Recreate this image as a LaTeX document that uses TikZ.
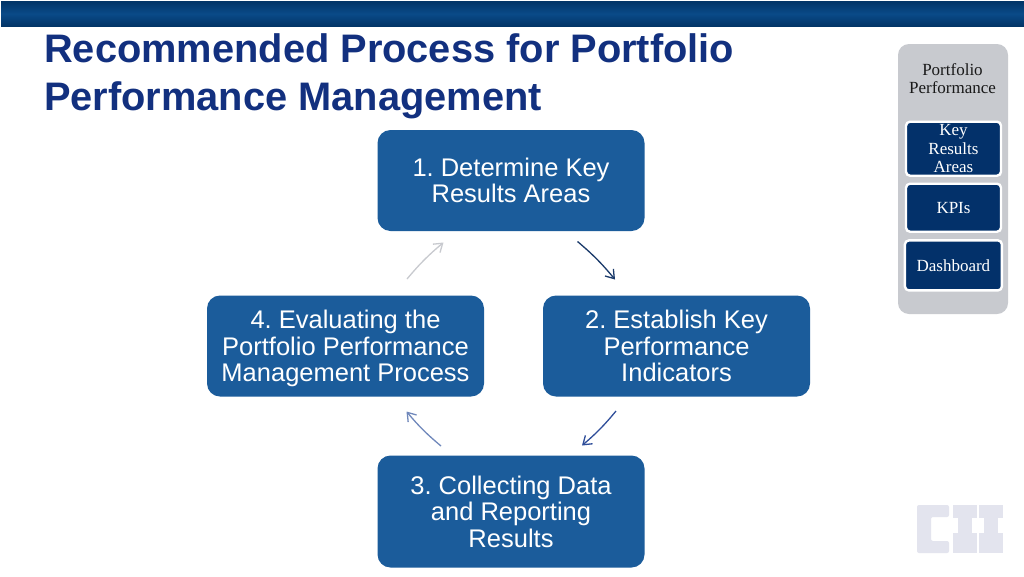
\documentclass[tikz,border=0pt]{standalone}
\usepackage{fontspec}
\setmainfont{Liberation Sans}
\newfontfamily\serifside{Liberation Serif}
\usetikzlibrary{arrows.meta,shadings}
\frenchspacing
\definecolor{boxblue}{HTML}{1B5C9B}
\definecolor{titleblue}{HTML}{12307F}
\definecolor{sidegray}{HTML}{C8CACF}
\definecolor{sidenavy}{HTML}{03316A}
\definecolor{logogray}{HTML}{E3E4EE}
\definecolor{bandmid}{HTML}{0A4A88}
\definecolor{bandedge}{HTML}{023466}
\definecolor{arrowa}{HTML}{1A3A6A}
\definecolor{arrowb}{HTML}{2F4E9A}
\definecolor{arrowc}{HTML}{7088BB}
\tikzset{
  x=1pt,y=-1pt,
  stepbox/.style={draw=none,fill=boxblue,rounded corners=13pt,text=white,align=center,
    font=\fontsize{25.5}{26.6}\selectfont,inner sep=0pt},
  sidebox/.style={draw=white,line width=2.4pt,fill=sidenavy,rounded corners=4pt,text=white,align=center,
    font=\serifside\fontsize{17}{18.6}\selectfont,inner sep=0pt},
  flow/.style={line width=1.3pt,-{Straight Barb[length=8pt,width=11pt,line width=1.3pt]}},
}
\begin{document}
\begin{tikzpicture}
\useasboundingbox (0,0) rectangle (1024,576);
\fill[white] (0,0) rectangle (1024,576);
% top band
\shade[top color=bandedge,bottom color=bandedge,middle color=bandmid] (1,1) rectangle (1024,26.5);
% title
\node[anchor=north west,inner sep=0pt,text=titleblue,align=left,font=\bfseries\fontsize{39.8}{48}\selectfont] (title) at (44,33) {Recommended Process for Portfolio\\Performance Management};
% side panel
\node[draw=none,fill=sidegray,rounded corners=11pt,minimum width=110pt,minimum height=270pt,inner sep=0pt] (panel) at (953,179) {};
\node[font=\serifside\fontsize{17}{18.6}\selectfont,text=black!90,align=center,inner sep=0pt] (ptitle) at (952.5,78.5) {Portfolio\\Performance};
\node[sidebox,minimum width=95pt,minimum height=54pt] (s1) at (953.5,148.7) {Key\\Results\\Areas};
\node[sidebox,minimum width=95pt,minimum height=48pt] (s2) at (953.5,207.7) {KPIs};
\node[sidebox,minimum width=97pt,minimum height=50pt] (s3) at (953.4,265.4) {Dashboard};
% main steps
\node[stepbox,minimum width=267pt,minimum height=101pt] (n1) at (511,180.5) {1. Determine Key\\Results Areas};
\node[stepbox,minimum width=267pt,minimum height=101pt] (n2) at (676.5,346) {2. Establish Key\\Performance\\Indicators};
\node[stepbox,minimum width=267pt,minimum height=112pt] (n3) at (511,511.5) {3. Collecting Data\\and Reporting\\Results};
\node[stepbox,minimum width=277pt,minimum height=101pt] (n4) at (345.5,346) {4. Evaluating the\\Portfolio Performance\\\smash{Management Process}};
% connectors
\coordinate (a1s) at (577.5,241.5); \coordinate (a1e) at (615,279.5);
\coordinate (a2s) at (616,411); \coordinate (a2e) at (582,445.5);
\coordinate (a3s) at (441,446); \coordinate (a3e) at (406.5,411.5);
\coordinate (a4s) at (407,279); \coordinate (a4e) at (443.5,242.5);
\draw[flow,draw=arrowa] (a1s) to[bend left=5] (a1e);
\draw[flow,draw=arrowb] (a2s) to[bend left=5] (a2e);
\draw[flow,draw=arrowc] (a3s) to[bend left=5] (a3e);
\draw[flow,draw=sidegray] (a4s) to[bend left=5] (a4e);
% logo
\fill[logogray,rounded corners=2pt] (917,505) -- (949,505) -- (949,517) -- (931,517) -- (931,541) -- (949,541) -- (949,553) -- (917,553) -- cycle;
\foreach \xa in {953,979}{
  \fill[logogray] (\xa,505) rectangle ++(24,13);
  \fill[logogray] (\xa+5,518) rectangle ++(14,15);
  \fill[logogray] (\xa,533) rectangle ++(24,20);
}
\end{tikzpicture}
\end{document}
